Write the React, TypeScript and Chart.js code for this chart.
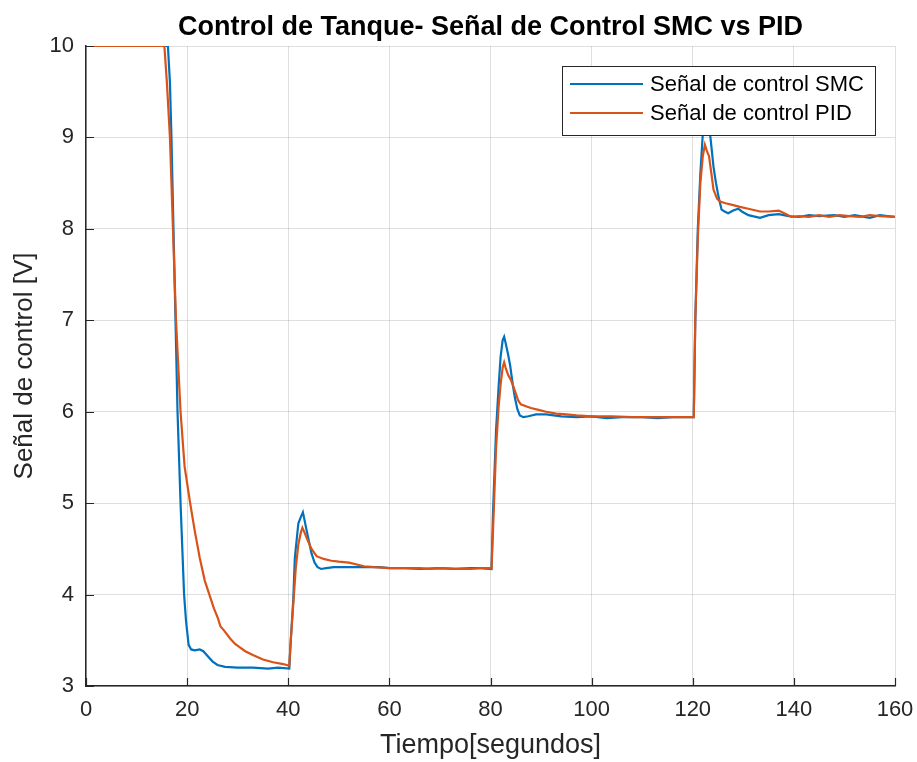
import React, { useEffect, useRef } from "react";
import { Chart, registerables } from "chart.js";

Chart.register(...registerables);

const TITLE = "Control de Tanque- Señal de Control SMC vs PID";
const X_LABEL = "Tiempo[segundos]";
const Y_LABEL = "Señal de control [V]";
const SERIES_NAMES = ["Señal de control SMC", "Señal de control PID"];

const X_MIN = 0;
const X_MAX = 160;
const X_STEP = 20;
const Y_MIN = 3;
const Y_MAX = 10;
const Y_STEP = 1;

const smcTime = [
  0, 16.2, 16.6, 16.9, 17.3, 17.7, 18.1, 18.7, 19.4, 19.8, 20.3, 20.8, 21.5, 22.5, 23.2, 24.0, 25.0, 26.0, 27.5, 30,
  33, 36, 38, 40.2, 40.5, 41.0, 41.3, 42.0, 42.5, 42.9, 43.2, 43.6, 44.1, 44.6, 45.2, 45.8, 46.5, 47.5, 49, 52,
  55, 58, 60, 63, 66, 70, 73, 76, 78, 80.2, 80.5, 81.1, 81.6, 82.0, 82.4, 82.7, 83.0, 83.5, 83.9, 84.4,
  84.8, 85.3, 85.8, 86.5, 87.5, 89, 91, 94, 97, 100, 103, 106, 110, 113, 116, 120.2, 120.5, 121.0, 121.5, 122.0,
  122.6, 123.1, 123.5, 124.1, 124.6, 125.1, 125.7, 126.3, 127.0, 128.0, 129.0, 129.7, 131, 133.3, 135, 137, 139, 141, 143, 145,
  148, 150, 152, 155, 157, 158.5, 160,
];
const smcValue = [
  10, 10, 9.6, 9.0, 8.0, 7.0, 6.0, 5.0, 4.0, 3.7, 3.45, 3.4, 3.39, 3.4, 3.38, 3.33, 3.27, 3.23, 3.21, 3.2,
  3.2, 3.19, 3.2, 3.19, 3.5, 3.95, 4.4, 4.78, 4.85, 4.9, 4.82, 4.71, 4.58, 4.45, 4.35, 4.3, 4.28, 4.29, 4.3, 4.3,
  4.3, 4.3, 4.29, 4.29, 4.28, 4.29, 4.28, 4.29, 4.29, 4.28, 4.9, 5.8, 6.27, 6.6, 6.78, 6.82, 6.75, 6.62, 6.5, 6.3,
  6.16, 6.03, 5.96, 5.94, 5.95, 5.97, 5.97, 5.95, 5.94, 5.95, 5.93, 5.94, 5.94, 5.93, 5.94, 5.94, 7.0, 8.0, 8.6, 9.05,
  9.2, 9.15, 9.0, 8.68, 8.5, 8.35, 8.21, 8.19, 8.17, 8.2, 8.22, 8.19, 8.15, 8.12, 8.15, 8.16, 8.14, 8.13, 8.15, 8.14,
  8.15, 8.13, 8.15, 8.12, 8.15, 8.14, 8.13,
];

const pidTime = [
  0, 15.5, 16.0, 16.6, 17.2, 17.8, 18.7, 19.5, 20.6, 21.5, 22.5, 23.5, 24.4, 25.3, 26.1, 26.6, 27.4, 28.5, 29.5, 30.5,
  31.5, 33, 35, 37, 39, 40.2, 40.5, 41.0, 41.5, 42.0, 42.5, 42.8, 43.2, 43.8, 44.6, 45.6, 47, 48.5, 50, 52,
  55, 57, 60, 63, 66, 68, 70, 73, 76, 78, 80.2, 80.5, 81.1, 81.6, 82.0, 82.4, 82.7, 83.0, 83.5, 84.0,
  84.5, 85.0, 85.5, 86.0, 87, 88, 89.5, 91, 93, 95, 97, 100, 104, 108, 112, 116, 120.2, 120.5, 121.0, 121.5,
  122.0, 122.4, 122.8, 123.2, 123.7, 124.1, 124.8, 125.4, 126.5, 128, 129.3, 131, 133.3, 135, 137, 138.5, 139.5, 141, 143, 145,
  147, 149, 151, 153, 155, 157, 160,
];
const pidValue = [
  10, 10, 9.6, 9.0, 8.0, 7.0, 6.0, 5.4, 5.0, 4.7, 4.4, 4.15, 4.0, 3.85, 3.74, 3.65, 3.6, 3.52, 3.46, 3.42,
  3.38, 3.34, 3.29, 3.26, 3.24, 3.22, 3.5, 3.9, 4.3, 4.55, 4.68, 4.73, 4.68, 4.6, 4.5, 4.42, 4.39, 4.37, 4.36, 4.35,
  4.31, 4.3, 4.29, 4.29, 4.29, 4.28, 4.29, 4.28, 4.28, 4.29, 4.29, 4.7, 5.6, 6.05, 6.3, 6.48, 6.54, 6.48, 6.4, 6.35,
  6.28, 6.2, 6.12, 6.08, 6.06, 6.04, 6.02, 6.0, 5.98, 5.97, 5.96, 5.95, 5.95, 5.94, 5.94, 5.94, 5.94, 7.0, 7.9, 8.5,
  8.8, 8.92, 8.85, 8.8, 8.6, 8.43, 8.33, 8.3, 8.28, 8.26, 8.24, 8.22, 8.19, 8.19, 8.2, 8.16, 8.13, 8.14, 8.13, 8.15,
  8.13, 8.15, 8.14, 8.13, 8.15, 8.14, 8.13,
];

const BLUE = "#0072BD";
const ORANGE = "#D95319";
const AXIS = "#262626";
const FONT = "'Liberation Sans', Arial, Helvetica, sans-serif";

const overlayPlugin = {
  id: "overlay",
  afterDraw(chart: any) {
    const ctx = chart.ctx as CanvasRenderingContext2D;
    const area = chart.chartArea;
    const xs = chart.scales.x;
    const ys = chart.scales.y;
    ctx.save();
    // inward tick marks
    ctx.strokeStyle = AXIS;
    ctx.lineWidth = 1.2;
    ctx.beginPath();
    for (let v = X_MIN; v <= X_MAX; v += X_STEP) {
      const px = Math.round(xs.getPixelForValue(v)) + 0.5;
      ctx.moveTo(px, area.bottom);
      ctx.lineTo(px, area.bottom - 8);
    }
    for (let v = Y_MIN; v <= Y_MAX; v += Y_STEP) {
      const py = Math.round(ys.getPixelForValue(v)) + 0.5;
      ctx.moveTo(area.left, py);
      ctx.lineTo(area.left + 8, py);
    }
    ctx.stroke();

    // title
    ctx.fillStyle = "#000";
    ctx.font = `bold 27px ${FONT}`;
    ctx.textAlign = "center";
    ctx.textBaseline = "middle";
    ctx.fillText(TITLE, (area.left + area.right) / 2, 28);

    // legend
    const lx = 562, ly = 66, lw = 313, lh = 69;
    ctx.fillStyle = "#fff";
    ctx.fillRect(lx, ly, lw, lh);
    ctx.strokeStyle = AXIS;
    ctx.lineWidth = 1;
    ctx.strokeRect(lx + 0.5, ly + 0.5, lw, lh);
    const colors = [BLUE, ORANGE];
    const rows = [84, 113];
    ctx.font = `22px ${FONT}`;
    ctx.textAlign = "left";
    ctx.textBaseline = "middle";
    SERIES_NAMES.forEach((name, i) => {
      ctx.strokeStyle = colors[i];
      ctx.lineWidth = 2;
      ctx.beginPath();
      ctx.moveTo(570, rows[i]);
      ctx.lineTo(643, rows[i]);
      ctx.stroke();
      ctx.fillStyle = "#000";
      ctx.fillText(name, 650, rows[i] + 1);
    });
    ctx.restore();
  },
};

export default function App() {
  const ref = useRef<HTMLCanvasElement | null>(null);
  useEffect(() => {
    if (!ref.current) return;
    const chart = new Chart(ref.current, {
      type: "line",
      data: {
        datasets: [
          {
            label: SERIES_NAMES[0],
            data: smcTime.map((t, i) => ({ x: t, y: smcValue[i] })),
            borderColor: BLUE,
            borderWidth: 2.2,
            pointRadius: 0,
            tension: 0,
            order: 1,
          },
          {
            label: SERIES_NAMES[1],
            data: pidTime.map((t, i) => ({ x: t, y: pidValue[i] })),
            borderColor: ORANGE,
            borderWidth: 2.2,
            pointRadius: 0,
            tension: 0,
            order: 0,
          },
        ],
      },
      options: {
        animation: false,
        responsive: false,
        devicePixelRatio: 1,
        layout: { padding: { top: 46, right: 22, left: 0, bottom: 0 } },
        plugins: { legend: { display: false }, title: { display: false }, tooltip: { enabled: false } },
        scales: {
          x: {
            type: "linear",
            min: X_MIN,
            max: X_MAX,
            ticks: { stepSize: X_STEP, color: AXIS, font: { family: FONT, size: 22 }, padding: 11, maxRotation: 0 },
            grid: { color: "rgba(38,38,38,0.15)", drawTicks: false },
            border: { display: true, color: AXIS, width: 1.5 },
            title: { display: true, text: X_LABEL, color: AXIS, font: { family: FONT, size: 27 }, padding: { top: 0, bottom: 0 } },
            afterFit: (s: any) => { s.height = 76; s.paddingLeft = 0; s.paddingRight = 0; },
          },
          y: {
            min: Y_MIN,
            max: Y_MAX,
            ticks: { stepSize: Y_STEP, color: AXIS, font: { family: FONT, size: 22 }, padding: 12 },
            grid: { color: "rgba(38,38,38,0.15)", drawTicks: false },
            border: { display: true, color: AXIS, width: 1.5 },
            title: { display: true, text: Y_LABEL, color: AXIS, font: { family: FONT, size: 26 }, padding: { top: 9, bottom: 0 } },
            afterFit: (s: any) => { s.width = 86; s.paddingTop = 0; s.paddingBottom = 0; },
          },
        },
      },
      plugins: [overlayPlugin],
    } as any);
    return () => chart.destroy();
  }, []);
  return (
    <div style={{ position: "absolute", left: 0, top: 0, width: 917, height: 762, background: "#fff" }}>
      <canvas ref={ref} width={917} height={762} />
    </div>
  );
}
